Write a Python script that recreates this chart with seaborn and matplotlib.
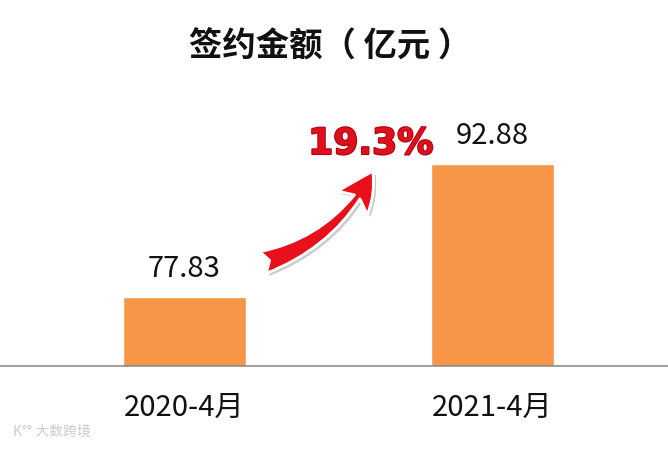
import matplotlib
matplotlib.use("Agg")
import matplotlib.pyplot as plt
import matplotlib.patheffects as pe
from matplotlib.patches import FancyArrowPatch
import pandas as pd
import seaborn as sns

# data
periods = ["2020-4月", "2021-4月"]
amounts = [77.83, 92.88]
growth_label = "19.3%"
title = "签约金额（ 亿元 ）"

df = pd.DataFrame({"period": periods, "amount": amounts})

sns.set_theme(style="white")
plt.rcParams["font.family"] = ["Noto Sans CJK SC", "DejaVu Sans"]

fig = plt.figure(figsize=(6.68, 4.50), dpi=100)
ax = fig.add_axes([0, 84 / 450, 1, 366 / 450])

sns.barplot(data=df, x="period", y="amount", color="#F79646", width=0.4,
            saturation=1, ax=ax)

ax.set_ylim(70, 111.45)
ax.set_xlim(-0.6, 1.572)
ax.set_xlabel("")
ax.set_ylabel("")
ax.set_yticks([])
for s in ["top", "right", "left"]:
    ax.spines[s].set_visible(False)
ax.spines["bottom"].set_color("#8c8c8c")
ax.spines["bottom"].set_linewidth(1.2)
ax.tick_params(axis="x", length=0, pad=19, labelsize=21, colors="#111111")

# value labels
for i, v in enumerate(amounts):
    ax.text(i, v + 1.5, f"{v:.2f}", ha="center", va="bottom", fontsize=21,
            color="#111111")

# title
fig.text(0.494, 0.895, title, ha="center", va="center", fontsize=24,
         fontweight="bold", color="#111111")

# growth text
fig.text(0.555, 0.68, growth_label, ha="center", va="center", fontsize=26,
         fontweight="bold", color="#E0101A", family=["DejaVu Sans"],
         path_effects=[pe.withStroke(linewidth=1.5, foreground="#B00010")])

# curved arrow
arrow = FancyArrowPatch((0.39, 0.415), (0.56, 0.625), transform=fig.transFigure,
                        connectionstyle="arc3,rad=0.22",
                        arrowstyle="fancy,head_width=1.5,head_length=1.5,tail_width=0.9",
                        mutation_scale=18,
                        facecolor="#E8101A", edgecolor="white", linewidth=2,
                        path_effects=[pe.SimplePatchShadow(offset=(2, -2), shadow_rgbFace="#999999", alpha=0.5),
                                      pe.Normal()])
fig.patches.append(arrow)

# watermark
fig.text(0.02, 0.04, "K°° 大数跨境", ha="left", va="center", fontsize=10,
         color="#cccccc")

fig.savefig("out.png", dpi=100)
